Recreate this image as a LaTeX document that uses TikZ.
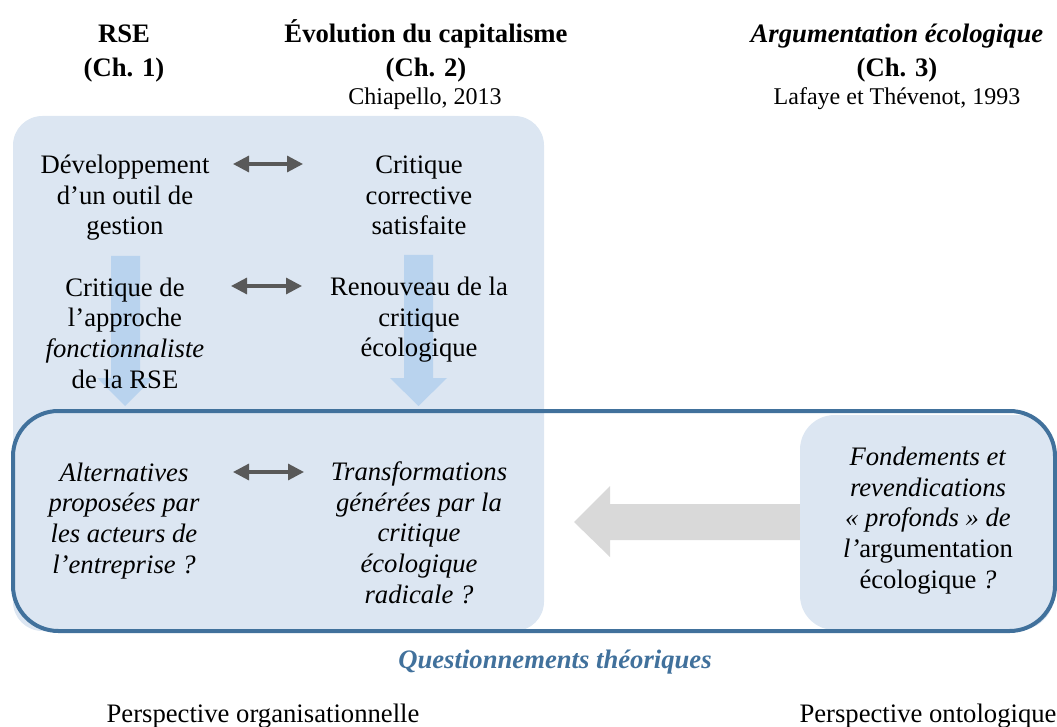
\documentclass[tikz,border=0pt]{standalone}
\usepackage{fontspec}
\setmainfont{Liberation Serif}
\usepackage{tikz}
\usetikzlibrary{arrows.meta,calc,positioning}
\definecolor{panelblue}{HTML}{DCE6F2}
\definecolor{arrowblue}{HTML}{B9D3EE}
\definecolor{frameblue}{HTML}{41719C}
\definecolor{arrowgrey}{HTML}{D9D9D9}
\definecolor{linkgrey}{HTML}{595959}
\tikzstyle{txt}   =[align=center, inner sep=0pt, anchor=base,
                    font=\fontsize{20}{23}\selectfont]
\tikzstyle{header}=[txt, font=\fontsize{20}{25.5}\selectfont\bfseries]
\tikzstyle{source}=[txt, font=\fontsize{18}{21}\selectfont]
\tikzstyle{link}  =[{Triangle[length=12pt,width=12pt]}-{Triangle[length=12pt,width=12pt]},
                    draw=linkgrey, line width=2.4pt]

\begin{document}
\begin{tikzpicture}[x=0.75pt, y=-0.75pt]
\useasboundingbox (0,0) rectangle (1057,727);
% background shapes
\fill[panelblue, rounded corners=22pt] (13,116) rectangle (544,631);
\fill[arrowblue] (111,256) -- (140,256) -- (140,378) -- (153,378) -- (125,406)
                 -- (97,378) -- (111,378) -- cycle;
\fill[arrowblue] (404,255) -- (433,255) -- (433,378) -- (447,378) -- (418.5,406)
                 -- (390,378) -- (404,378) -- cycle;
\fill[arrowgrey] (574,522) -- (610,486) -- (610,504) -- (810,504) -- (810,540)
                 -- (610,540) -- (610,557) -- cycle;
\fill[panelblue, rounded corners=26pt] (800,415) rectangle (1054,630);
\draw[frameblue, line width=3pt, rounded corners=34pt] (13,411) rectangle (1055,631);
% headers (base = last line)
\node (rse) [header] at (124,77) {RSE\\(Ch. 1)};
\node (capi) [header] at (426,77) {Évolution du capitalisme\\(Ch. 2)};
\node (capisrc) [source] at (425,105) {Chiapello, 2013};
\node (argu) [header] at (897,77) {\itshape Argumentation écologique\\\upshape(Ch. 3)};
\node (argusrc) [source] at (897,105) {Lafaye et Thévenot, 1993};
% texts
\node (outil) [txt] at (125,235) {Développement\\d’un outil de\\gestion};
\node (corr) [txt] at (419,235) {Critique\\corrective\\satisfaite};
\node (fonc) [txt] at (125,388) {Critique de\\l’approche\\\textit{fonctionnaliste}\\de la RSE};
\node (renou) [txt] at (419,357) {Renouveau de la\\critique\\écologique};
\node (alter) [txt, font=\fontsize{20}{23}\selectfont\itshape] at (124,573)
  {Alternatives\\proposées par\\les acteurs de\\l’entreprise~?};
\node (transf) [txt, font=\fontsize{20}{23}\selectfont\itshape] at (419,603)
  {Transformations\\générées par la\\critique\\écologique\\radicale~?};
\node (fond) [txt] at (928,588) {\textit{Fondements et}\\\textit{revendications}\\
  \textit{«~profonds~» de}\\\textit{l’}argumentation\\écologique \textit{?}};
\node (quest) [txt, font=\fontsize{20}{23}\selectfont\bfseries\itshape,
  text=frameblue] at (555,668) {Questionnements théoriques};
\node (orga) [txt] at (263,722) {Perspective organisationnelle};
\node (onto) [txt] at (928,722) {Perspective ontologique};
% links
\coordinate (l1a) at (233,164); \coordinate (l1b) at (303,164);
\coordinate (l2a) at (231,286); \coordinate (l2b) at (302,286);
\coordinate (l3a) at (233,472); \coordinate (l3b) at (304,472);
\foreach \s in {1,2,3} { \draw [link] (l\s a) -- (l\s b); }
\end{tikzpicture}
\end{document}
